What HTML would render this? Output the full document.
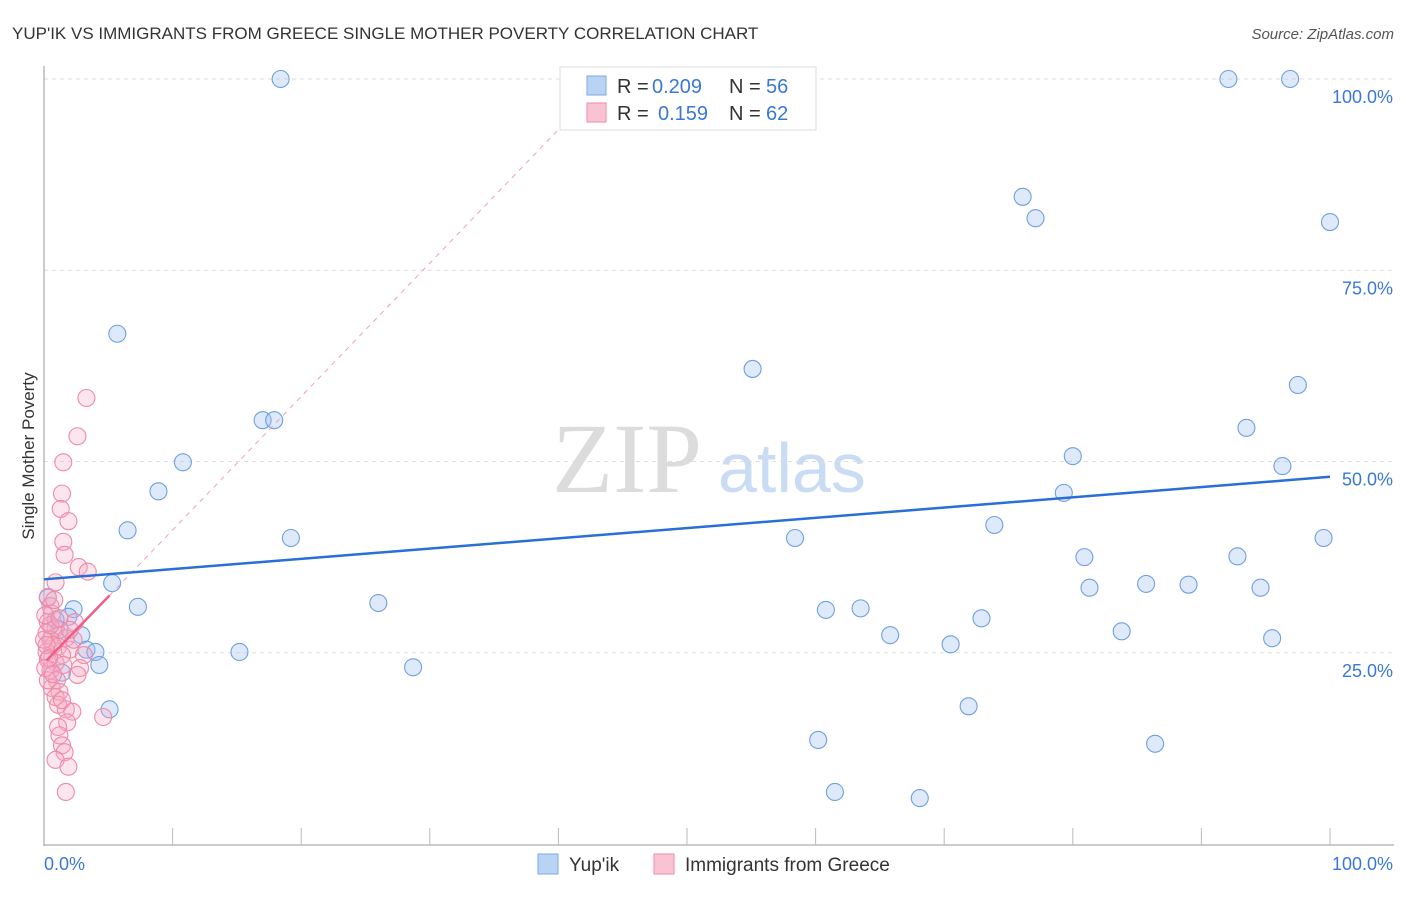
<!DOCTYPE html>
<html><head><meta charset="utf-8"><style>
body{margin:0;background:#fff;font-family:"Liberation Sans",sans-serif;}
svg text{font-family:"Liberation Sans",sans-serif;}
</style></head><body>
<svg id="chart" width="1406" height="892" xmlns="http://www.w3.org/2000/svg">
<text x="12" y="39" font-size="17" fill="#333">YUP'IK VS IMMIGRANTS FROM GREECE SINGLE MOTHER POVERTY CORRELATION CHART</text>
<text x="1394" y="39" font-size="15" fill="#555" text-anchor="end" font-style="italic">Source: ZipAtlas.com</text>
<text x="34" y="456" font-size="17" fill="#333" text-anchor="middle" transform="rotate(-90 34 456)">Single Mother Poverty</text>
<g><text x="552" y="492" style="font-family:'Liberation Serif',serif;font-size:100px" fill="#dcdcdc">ZIP</text><text x="718" y="492" font-size="70" fill="#cadcf3">atlas</text></g>
<g id="grid"></g><g id="axes"></g><g id="marks"></g>
<g>
<rect x="560" y="67" width="256" height="63" fill="#fff" stroke="#ddd"/>
<rect x="587" y="76" width="19" height="19" fill="#b8d3f4" stroke="#7fa9e6"/>
<rect x="587" y="103" width="19" height="19" fill="#f8c4d3" stroke="#f08aa8"/>
<text x="617" y="93" font-size="20" fill="#333">R =</text>
<text x="652" y="93" font-size="20" fill="#3a78d8">0.209</text>
<text x="729" y="93" font-size="20" fill="#333">N =</text>
<text x="766" y="93" font-size="20" fill="#3a78d8">56</text>
<text x="617" y="120" font-size="20" fill="#333">R =</text>
<text x="658" y="120" font-size="20" fill="#3a78d8">0.159</text>
<text x="729" y="120" font-size="20" fill="#333">N =</text>
<text x="766" y="120" font-size="20" fill="#3a78d8">62</text>
</g>
<g>
<rect x="538" y="854" width="20" height="20" fill="#b8d3f4" stroke="#7fa9e6"/>
<text x="569" y="871" font-size="19" fill="#333">Yup'ik</text>
<rect x="654" y="854" width="20" height="20" fill="#f8c4d3" stroke="#f08aa8"/>
<text x="685" y="871" font-size="19" fill="#333">Immigrants from Greece</text>
</g>
</svg>
<script>
const yTicks=[25,50,75,100];
const yTickLabels=["25.0%","50.0%","75.0%","100.0%"];
const blueX=[18.4,92.1,96.9,76.1,77.1,100,5.7,55.1,97.5,17.0,17.9,93.5,10.8,80.0,96.3,8.9,79.3,6.5,19.2,58.4,73.9,80.9,92.8,99.5,5.3,81.3,85.7,89.0,94.6,7.3,26.0,2.3,60.8,63.5,72.9,2.9,65.8,83.8,95.5,70.5,3.3,4.0,15.2,4.3,28.7,1.4,5.1,71.9,60.2,86.4,61.5,68.1,0.3,1.9,0.9,1.2];
const blueY=[100,100,100,84.6,81.8,81.3,66.7,62.1,60.0,55.4,55.4,54.4,49.9,50.7,49.4,46.1,45.9,41.0,40.0,40.0,41.7,37.5,37.6,40.0,34.1,33.5,34.0,33.9,33.5,31.0,31.5,30.7,30.6,30.8,29.5,27.3,27.3,27.8,26.9,26.1,25.4,25.1,25.1,23.4,23.1,22.4,17.6,18.0,13.6,13.1,6.8,6.0,32.2,29.7,29.3,28.0];
const pinkX=[3.3,2.6,1.5,1.4,1.3,1.9,1.5,1.6,2.7,3.4,0.9,0.3,0.5,0.6,2.4,0.3,0.9,0.2,1.2,1.7,0.5,0.7,1.1,2.0,0.2,1.4,3.1,0.3,0.9,1.5,2.8,0.5,2.6,1.0,0.6,1.2,0.9,1.1,1.7,2.2,4.6,1.8,1.1,1.2,1.4,1.6,0.9,1.9,1.7,0,0.2,0.5,0.1,0.8,2.3,0.3,1.2,2.0,0.4,0.1,0.7,1.4];
const pinkY=[58.3,53.3,49.9,45.8,43.8,42.2,39.5,37.8,36.2,35.6,34.2,32.3,31.1,30.1,29.0,29.0,28.2,27.6,27.3,26.9,26.7,26.0,25.8,25.4,25.1,24.7,24.7,24.1,23.7,23.4,23.0,22.7,22.1,21.4,20.4,19.9,19.2,18.2,17.6,17.3,16.6,15.9,15.3,14.2,12.9,12.0,11.0,10.1,6.8,26.7,26.0,28.6,29.9,31.9,26.7,21.4,29.5,28.0,24.3,23.0,22.2,18.8];
const blueTrend=[[0,34.6],[100,48.0]];
const pinkTrend=[[0.2,24.0],[5.1,32.5]];
const pinkDash=[[5.1,32.5],[41.5,96]];
const X0=44,X1=1330,Y0=844,Y100=79;
const sx=v=>X0+(X1-X0)*v/100, sy=v=>Y0-(Y0-Y100)*v/100;
const NS="http://www.w3.org/2000/svg";
function mk(p,t,a){const e=document.createElementNS(NS,t);for(const k in a)e.setAttribute(k,a[k]);document.getElementById(p).appendChild(e);return e;}
yTicks.forEach((t,i)=>{
 const g=mk('grid','line',{x1:X0,x2:1394,y1:sy(t),y2:sy(t),stroke:'#ddd','stroke-dasharray':'4 4'});
 
 
 const l=mk('axes','text',{x:1393,y:sy(t)+24,'font-size':18,fill:'#3a78d8','text-anchor':'end'});
 l.textContent=yTickLabels[i];
 
 
});
const ya=mk('axes','line',{x1:X0,x2:X0,y1:66,y2:846,stroke:'#999'});


const xa=mk('axes','line',{x1:X0,x2:1394,y1:845,y2:845,stroke:'#999'});


for(let i=1;i<=10;i++){const t=mk('axes','line',{x1:sx(i*10),x2:sx(i*10),y1:828,y2:845,stroke:'#bbb'});
 
 }
const xl0=mk('axes','text',{x:44,y:870,'font-size':18,fill:'#3a78d8'});xl0.textContent='0.0%';


const xl1=mk('axes','text',{x:1393,y:870,'font-size':18,fill:'#3a78d8','text-anchor':'end'});xl1.textContent='100.0%';


blueX.forEach((x,i)=>{const c=mk('marks','circle',{cx:sx(x),cy:sy(blueY[i]),r:8.5,fill:'rgba(160,196,240,0.35)',stroke:'#6f9fe2','stroke-width':1.1});
 
 });
pinkX.forEach((x,i)=>{const c=mk('marks','circle',{cx:sx(x),cy:sy(pinkY[i]),r:8.5,fill:'rgba(246,170,195,0.3)',stroke:'#ee8aa8','stroke-width':1.1});
 
 });
const pd=mk('marks','line',{x1:sx(pinkDash[0][0]),y1:sy(pinkDash[0][1]),x2:sx(pinkDash[1][0]),y2:sy(pinkDash[1][1]),stroke:'#f0a0b8','stroke-dasharray':'5 5','stroke-width':1});


const bt=mk('marks','line',{x1:sx(blueTrend[0][0]),y1:sy(blueTrend[0][1]),x2:sx(blueTrend[1][0]),y2:sy(blueTrend[1][1]),stroke:'#2a6fd6','stroke-width':2.5});


const pt=mk('marks','line',{x1:sx(pinkTrend[0][0]),y1:sy(pinkTrend[0][1]),x2:sx(pinkTrend[1][0]),y2:sy(pinkTrend[1][1]),stroke:'#ee5f88','stroke-width':2.5});


</script>
</body></html>
